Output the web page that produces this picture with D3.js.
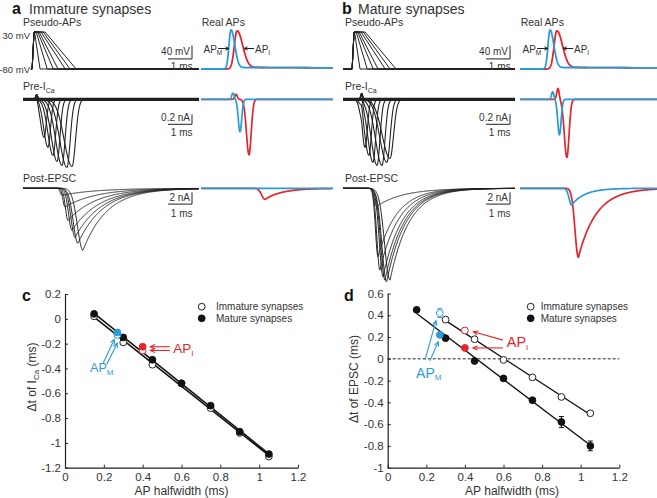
<!DOCTYPE html>
<html><head><meta charset="utf-8">
<script src="https://cdn.jsdelivr.net/npm/d3@7"></script>
<style>
body{margin:0;background:#fff}
svg{display:block}
text{font-family:Arial,"Liberation Sans",Helvetica,sans-serif}
</style>
</head><body>
<svg id="fig" width="657" height="498"></svg>
<script>
// ================= DATA =================
const halfwidths = [0.15, 0.3, 0.45, 0.6, 0.75, 0.9, 1.05];

// panel c : Δt of I_Ca (ms)
const cImmature = [0.02, -0.19, -0.37, -0.52, -0.72, -0.92, -1.11];
const cMature   = [0.04, -0.15, -0.33, -0.52, -0.70, -0.91, -1.09];
const realHW    = [0.27, 0.40];            // AP_M, AP_I
const cRealImm  = [-0.13, -0.255];
const cRealMat  = [-0.11, -0.225];

// panel d : Δt of EPSC (ms)
const dImmHW     = [0.3, 0.45, 0.6, 0.75, 0.9, 1.05];
const dImmature  = [0.36, 0.18, -0.01, -0.17, -0.35, -0.50];
const dImmErr    = [0.02, 0.02, 0.015, 0.02, 0.02, 0.01];
const dMature    = [0.45, 0.19, -0.02, -0.18, -0.38, -0.58, -0.80];
const dMatErr    = [0.01, 0.015, 0.02, 0.01, 0.02, 0.05, 0.045];
const dRealImm   = [0.42, 0.26];
const dRealImmErr= [0.04, 0.025];
const dRealMat   = [0.22, 0.10];

// axis ticks
const xTicks  = [0, 0.2, 0.4, 0.6, 0.8, 1, 1.2];
const cYTicks = [0.2, 0, -0.2, -0.4, -0.6, -0.8, -1, -1.2];
const dYTicks = [0.6, 0.4, 0.2, 0, -0.2, -0.4, -0.6, -0.8, -1];

// pseudo-APs (times in ms after onset)
const vRest = -80, vPeak = 30;
const pseudoOnset = 0.38;
const pseudoRise = 0.08;
const pseudoPlateauEnd = [0.10, 0.17, 0.23, 0.29, 0.37, 0.46, 0.54];
const pseudoEnd        = [0.33, 0.63, 0.88, 1.08, 1.38, 1.58, 1.83];

// Pre-I_Ca evoked by pseudo-APs (ms, nA)
const caTroughA = [0.875, 1.04, 1.25, 1.42, 1.625, 1.83, 2.04];
const caAmpA    = [0.76, 0.96, 1.12, 1.24, 1.32, 1.36, 1.34];
const caTroughB = [0.92, 1.08, 1.25, 1.42, 1.625, 1.83, 1.96];
const caAmpB    = [0.96, 1.12, 1.26, 1.32, 1.32, 1.26, 1.18];
const caRiseSd  = [0.20, 0.25, 0.30, 0.34, 0.38, 0.42, 0.46];
const caDecaySd = [0.14, 0.15, 0.16, 0.17, 0.18, 0.19, 0.21];
const caBumpA = [0.57, 0.09], caBumpB = [0.78, 0.12];   // [time, amplitude]

// Post-EPSC evoked by pseudo-APs (ms, nA)
const epTroughA = [1.625, 1.75, 1.875, 2.04, 2.17, 2.29, 2.5];
const epAmpA    = [1.2, 3.2, 5.5, 7.2, 8.4, 9.4, 10.6];
const epRiseA   = [0.10, 0.12, 0.15, 0.20, 0.24, 0.28, 0.33];
const epDecayA  = [1.4, 1.3, 1.2, 1.15, 1.1, 1.05, 1.0];
const epTroughB = [1.40, 1.46, 1.54, 1.67, 1.75, 1.82, 1.96];
const epAmpB    = [3.1, 11.7, 14.0, 15.1, 15.7, 16.0, 15.7];
const epRiseB   = [0.12, 0.15, 0.18, 0.22, 0.25, 0.28, 0.32];
const epDecayB  = [1.1, 0.8, 0.8, 0.8, 0.8, 0.8, 0.8];

// real APs [AP_M (blue), AP_I (red)]
const apPeakTA = [1.25, 1.50], apPeakTB = [1.25, 1.53];
const apPeakV  = [36, 33];
const apRiseSd = [0.12, 0.16], apFallSd = [0.22, 0.33];
const apAdp = [5, 5], apAdpTau = [10, 10];
// real Pre-I_Ca
const rCaBumpTA = [1.33, 1.46], rCaBumpAmpA = [0.126, 0.10];
const rCaTA = [1.625, 2.0], rCaAmpA = [0.65, 1.11];
const rCaBumpTB = [1.36, 1.58], rCaBumpAmpB = [0.15, 0.22];
const rCaTB = [1.64, 1.95], rCaAmpB = [0.71, 1.16];
const rCaSdL = [0.10, 0.15], rCaSdR = [0.10, 0.13];
// real Post-EPSC
const rEpTA = [2.5, 2.67], rEpAmpA = [0, 1.9];
const rEpTB = [2.15, 2.43], rEpAmpB = [2.85, 11.8];
const rEpRise = [0.15, 0.2], rEpDecayA = [0.6, 0.7], rEpDecayB = [0.55, 0.75];

// ================= DRAWING =================
const svg = d3.select("#fig");
const BLUE = "#2a9bd7", RED = "#e2262c", INK = "#222", TXT = "#333";
const apColors = [BLUE, RED];

function text(x, y, s, o = {}) {
  const t = svg.append("text").attr("x", x).attr("y", y)
    .attr("font-size", o.size || 10).attr("fill", o.fill || TXT)
    .attr("text-anchor", o.anchor || "start");
  if (o.bold) t.attr("font-weight", "bold");
  if (o.rotate) t.attr("transform", `rotate(-90,${x},${y})`);
  (Array.isArray(s) ? s : [[s]]).forEach(p => {
    const ts = t.append("tspan").text(p[0]);
    if (p[1]) ts.attr("font-size", p[1]).attr("dy", p[2] || 0);
  });
  return t;
}
function seg(x1, y1, x2, y2, c, w = 1, dash) {
  const l = svg.append("line").attr("x1", x1).attr("y1", y1).attr("x2", x2).attr("y2", y2)
    .attr("stroke", c).attr("stroke-width", w);
  if (dash) l.attr("stroke-dasharray", dash);
}
function arrow(x1, y1, x2, y2, c, w = 1, head = 5) {
  seg(x1, y1, x2, y2, c, w);
  const a = Math.atan2(y2 - y1, x2 - x1), s = 0.45;
  svg.append("path")
    .attr("d", `M${x2 - head * Math.cos(a - s)},${y2 - head * Math.sin(a - s)}L${x2},${y2}L${x2 - head * Math.cos(a + s)},${y2 - head * Math.sin(a + s)}`)
    .attr("fill", "none").attr("stroke", c).attr("stroke-width", w);
}
function trace(pts, xs, ys, c, w = 1) {
  svg.append("path").attr("d", d3.line().x(d => xs(d[0])).y(d => ys(d[1]))(pts))
    .attr("fill", "none").attr("stroke", c).attr("stroke-width", w)
    .attr("stroke-linejoin", "round");
}
const ag = (t, tp, sl, sr) => Math.exp(-(((t - tp) / (t < tp ? sl : sr)) ** 2));
const ep = (t, tp, sr, td) => t < tp ? Math.exp(-(((t - tp) / sr) ** 2)) : Math.exp(-(t - tp) / td);
const times = xs => d3.range(xs.domain()[0], xs.domain()[1] + 0.005, 0.01);

// trace scales
const xA  = d3.scaleLinear().domain([0, 7.33]).range([23, 199]);
const xAR = d3.scaleLinear().domain([0, 5.5]).range([201, 333]);
const xB  = d3.scaleLinear().domain([0, 7.17]).range([343, 515]);
const xBR = d3.scaleLinear().domain([0, 5.7]).range([520, 657]);
const yV  = d3.scaleLinear().domain([-80, 30]).range([69, 32]);
const yCa = d3.scaleLinear().domain([-1, 0]).range([149.3, 99.3]);
const yEp = d3.scaleLinear().domain([-10, 0]).range([246.8, 188.3]);

const panels = [
  {L: xA, R: xAR, pStart: 0.33, caT: caTroughA, caA: caAmpA, bump: caBumpA,
   epT: epTroughA, epA: epAmpA, epR: epRiseA, epD: epDecayA,
   apT: apPeakTA, rBT: rCaBumpTA, rBA: rCaBumpAmpA, rCT: rCaTA, rCA: rCaAmpA,
   rET: rEpTA, rEA: rEpAmpA, rED: rEpDecayA, bar: 192,
   letter: "a", title: "Immature synapses", lx: 12, tx: 29, labX: 23},
  {L: xB, R: xBR, pStart: 0, caT: caTroughB, caA: caAmpB, bump: caBumpB,
   epT: epTroughB, epA: epAmpB, epR: epRiseB, epD: epDecayB,
   apT: apPeakTB, rBT: rCaBumpTB, rBA: rCaBumpAmpB, rCT: rCaTB, rCA: rCaAmpB,
   rET: rEpTB, rEA: rEpAmpB, rED: rEpDecayB, bar: 510,
   letter: "b", title: "Mature synapses", lx: 342, tx: 358, labX: 345}
];

panels.forEach(P => {
  // titles
  text(P.lx, 13.5, P.letter, {size: 16, bold: true, fill: "#111"});
  text(P.tx, 13.5, P.title, {size: 14, fill: TXT});
  text(P.labX, 26, "Pseudo-APs", {size: 10.5});
  text(P.R(0) + 0.7, 26, "Real APs", {size: 10.5});
  text(P.labX, 90, [["Pre-I"], ["Ca", 7, 2.5]], {size: 10.5});
  text(P.labX, 182.3, "Post-EPSC", {size: 10.5});

  // pseudo-APs
  halfwidths.forEach((hw, i) => {
    const t0 = pseudoOnset;
    trace([[P.pStart, vRest], [t0, vRest], [t0 + pseudoRise, vPeak], [t0 + pseudoPlateauEnd[i], vPeak],
           [t0 + pseudoEnd[i], vRest], [P.L.domain()[1], vRest]], P.L, yV, INK, 1);
  });
  // Pre-I_Ca (noise band + traces)
  trace([[0, 0], [P.L.domain()[1], 0]], P.L, yCa, INK, 3.2);
  halfwidths.forEach((hw, i) => {
    trace(times(P.L).map(t => [t, P.bump[1] * ag(t, P.bump[0], 0.06, 0.06) - P.caA[i] * ag(t, P.caT[i], caRiseSd[i], caDecaySd[i])]), P.L, yCa, INK, 1.1);
  });
  // Post-EPSC
  halfwidths.forEach((hw, i) => {
    trace(times(P.L).map(t => [t, -P.epA[i] * ep(t, P.epT[i], P.epR[i], P.epD[i])]), P.L, yEp, INK, 1);
  });

  // real traces: red first then blue
  [1, 0].forEach(k => {
    const c = apColors[k];
    trace(times(P.R).map(t => {
      let v = vRest + (apPeakV[k] - vRest) * ag(t, P.apT[k], apRiseSd[k], apFallSd[k]);
      if (t > P.apT[k]) v += apAdp[k] * (1 - Math.exp(-(t - P.apT[k]) / 0.25)) * Math.exp(-(t - P.apT[k]) / apAdpTau[k]);
      return [t, v];
    }), P.R, yV, c, 1.8);
  });
  [1, 0].forEach(k => {
    trace(times(P.R).map(t => [t, P.rBA[k] * ag(t, P.rBT[k], 0.07, 0.07) - P.rCA[k] * ag(t, P.rCT[k], rCaSdL[k], rCaSdR[k])]), P.R, yCa, apColors[k], 1.7);
  });
  [1, 0].forEach(k => {
    trace(times(P.R).map(t => [t, -P.rEA[k] * ep(t, P.rET[k], rEpRise[k], P.rED[k])]), P.R, yEp, apColors[k], 1.7);
  });

  // AP labels with arrows
  const r0 = P.R(0);
  text(r0 + 2.5, 52.7, [["AP"], ["M", 6.5, 2]], {size: 10});
  arrow(r0 + 17, 48.5, r0 + 28, 48.5, INK, 1, 4);
  arrow(r0 + 53, 48.5, r0 + 43, 48.5, INK, 1, 4);
  text(r0 + 54, 52.7, [["AP"], ["I", 6.5, 2]], {size: 10});

  // scale bars
  const bx = P.bar, w1ms = P.L(1) - P.L(0);
  seg(bx, yV(-10), bx, yV(-50), INK); seg(bx - w1ms, yV(-50), bx, yV(-50), INK);
  text(bx - 2, 55, "40 mV", {size: 10, anchor: "end"});
  text(bx + 0.5, 70, "1 ms", {size: 10, anchor: "end"});
  seg(bx, yCa(-0.3), bx, yCa(-0.5), INK); seg(bx - w1ms, yCa(-0.5), bx, yCa(-0.5), INK);
  text(bx - 2, 121, "0.2 nA", {size: 10, anchor: "end"});
  text(bx + 0.5, 136, "1 ms", {size: 10, anchor: "end"});
  seg(bx, yEp(-0.7), bx, yEp(-2.7), INK); seg(bx - w1ms, yEp(-2.7), bx, yEp(-2.7), INK);
  text(bx - 2, 201, "2 nA", {size: 10, anchor: "end"});
  text(bx + 0.5, 216.5, "1 ms", {size: 10, anchor: "end"});
});
text(30, 39.3, "30 mV", {size: 9.5, anchor: "end"});
text(30, 72.7, "-80 mV", {size: 9.5, anchor: "end"});

// ================= SCATTER PANELS =================
const xC = d3.scaleLinear().domain([0, 1.2]).range([65, 298]);
const yC = d3.scaleLinear().domain([-1.2, 0.2]).range([467.7, 294]);
const xD = d3.scaleLinear().domain([0, 1.2]).range([387.7, 619.3]);
const yD = d3.scaleLinear().domain([-1, 0.6]).range([467.7, 293.5]);
const fmt = d => String(Math.round(d * 10) / 10);

function axes(xs, ys, yt) {
  const gx = svg.append("g").attr("transform", `translate(0,${ys.range()[0]})`)
    .call(d3.axisBottom(xs).tickValues(xTicks).tickFormat(fmt).tickSizeInner(-3).tickSizeOuter(0).tickPadding(5));
  const gy = svg.append("g").attr("transform", `translate(${xs.range()[0]},0)`)
    .call(d3.axisLeft(ys).tickValues(yt).tickFormat(fmt).tickSizeInner(-3).tickSizeOuter(0).tickPadding(4));
  [gx, gy].forEach(g => {
    g.select(".domain").attr("stroke", INK).attr("stroke-width", 1.2);
    g.selectAll(".tick line").attr("stroke", INK);
    g.selectAll(".tick text").attr("font-size", 11.5).attr("fill", TXT)
      .attr("font-family", 'Arial,"Liberation Sans",sans-serif');
  });
}
function linreg(xs, ys) {
  const mx = d3.mean(xs), my = d3.mean(ys);
  const b = d3.sum(xs, (x, i) => (x - mx) * (ys[i] - my)) / d3.sum(xs, x => (x - mx) ** 2);
  return x => my + b * (x - mx);
}
function fitLine(xs, ys, X, Y, w) {
  const f = linreg(xs, ys), x0 = d3.min(xs), x1 = d3.max(xs);
  seg(X(x0), Y(f(x0)), X(x1), Y(f(x1)), "#111", w);
}
function dot(X, Y, x, y, filled, c) {
  svg.append("circle").attr("cx", X(x)).attr("cy", Y(y)).attr("r", 3.4)
    .attr("fill", filled ? c : "#fff").attr("stroke", c).attr("stroke-width", 1);
}
function errbar(X, Y, x, y, e, c) {
  if (!e) return;
  seg(X(x), Y(y - e), X(x), Y(y + e), c, 1);
  seg(X(x) - 2.5, Y(y - e), X(x) + 2.5, Y(y - e), c, 1);
  seg(X(x) - 2.5, Y(y + e), X(x) + 2.5, Y(y + e), c, 1);
}
function legend(x, tx) {
  svg.append("circle").attr("cx", x).attr("cy", 306.7).attr("r", 3.4).attr("fill", "#fff").attr("stroke", INK);
  svg.append("circle").attr("cx", x).attr("cy", 318.3).attr("r", 3.4).attr("fill", "#111").attr("stroke", "#111");
  text(tx, 310.3, "Immature synapses", {size: 10});
  text(tx, 321.9, "Mature synapses", {size: 10});
}

// ---- panel c ----
text(22, 301, "c", {size: 16, bold: true, fill: "#111"});
axes(xC, yC, cYTicks);
fitLine(halfwidths, cImmature, xC, yC, 1.6);
fitLine(halfwidths, cMature, xC, yC, 1.6);
halfwidths.forEach((h, i) => dot(xC, yC, h, cImmature[i], false, INK));
halfwidths.forEach((h, i) => dot(xC, yC, h, cMature[i], true, "#111"));
realHW.forEach((h, k) => { dot(xC, yC, h, cRealImm[k], false, apColors[k]); dot(xC, yC, h, cRealMat[k], true, apColors[k]); });
[[0.197, -0.356, 0.254, -0.166], [0.215, -0.367, 0.269, -0.196]]
  .forEach(a => arrow(xC(a[0]), yC(a[1]), xC(a[2]), yC(a[3]), BLUE, 1.1, 5));
[[0.54, -0.225, 0.44, -0.225], [0.54, -0.255, 0.44, -0.255]]
  .forEach(a => arrow(xC(a[0]), yC(a[1]), xC(a[2]), yC(a[3]), RED, 1.1, 5));
text(xC(0.129), yC(-0.43), [["AP"], ["M", 8, 2.5]], {size: 12.5, fill: BLUE});
text(xC(0.558), yC(-0.278), [["AP"], ["I", 8, 2.5]], {size: 13.5, fill: RED});
text(181.5, 495, "AP halfwidth (ms)", {size: 12, anchor: "middle"});
text(36, 377, [["\u0394t of I"], ["Ca", 8, 2.5], [" (ms)", 12, -2.5]], {size: 12, anchor: "middle", rotate: true});
legend(201.7, 216);

// ---- panel d ----
text(344, 301, "d", {size: 16, bold: true, fill: "#111"});
axes(xD, yD, dYTicks);
seg(xD(0), yD(0), xD(1.2), yD(0), INK, 1, "3,2");
fitLine(dImmHW, dImmature, xD, yD, 1.4);
fitLine(halfwidths, dMature, xD, yD, 1.4);
dImmHW.forEach((h, i) => { errbar(xD, yD, h, dImmature[i], dImmErr[i], INK); dot(xD, yD, h, dImmature[i], false, INK); });
halfwidths.forEach((h, i) => { errbar(xD, yD, h, dMature[i], dMatErr[i], "#111"); dot(xD, yD, h, dMature[i], true, "#111"); });
realHW.forEach((h, k) => {
  errbar(xD, yD, h, dRealImm[k], dRealImmErr[k], apColors[k]);
  dot(xD, yD, h, dRealImm[k], false, apColors[k]);
  dot(xD, yD, h, dRealMat[k], true, apColors[k]);
});
[[0.193, -0.012, 0.250, 0.349], [0.219, -0.018, 0.262, 0.156]]
  .forEach(a => arrow(xD(a[0]), yD(a[1]), xD(a[2]), yD(a[3]), BLUE, 1.1, 5));
[[0.597, 0.172, 0.444, 0.248], [0.597, 0.10, 0.442, 0.10]]
  .forEach(a => arrow(xD(a[0]), yD(a[1]), xD(a[2]), yD(a[3]), RED, 1.1, 5));
text(xD(0.147), yD(-0.173), [["AP"], ["M", 8, 2.5]], {size: 14, fill: BLUE});
text(xD(0.617), yD(0.105), [["AP"], ["I", 8, 2.5]], {size: 14.5, fill: RED});
text(512, 495, "AP halfwidth (ms)", {size: 12, anchor: "middle"});
text(358, 379, "\u0394t of EPSC (ms)", {size: 12, anchor: "middle", rotate: true});
legend(530.7, 540.7);
</script>
</body></html>
